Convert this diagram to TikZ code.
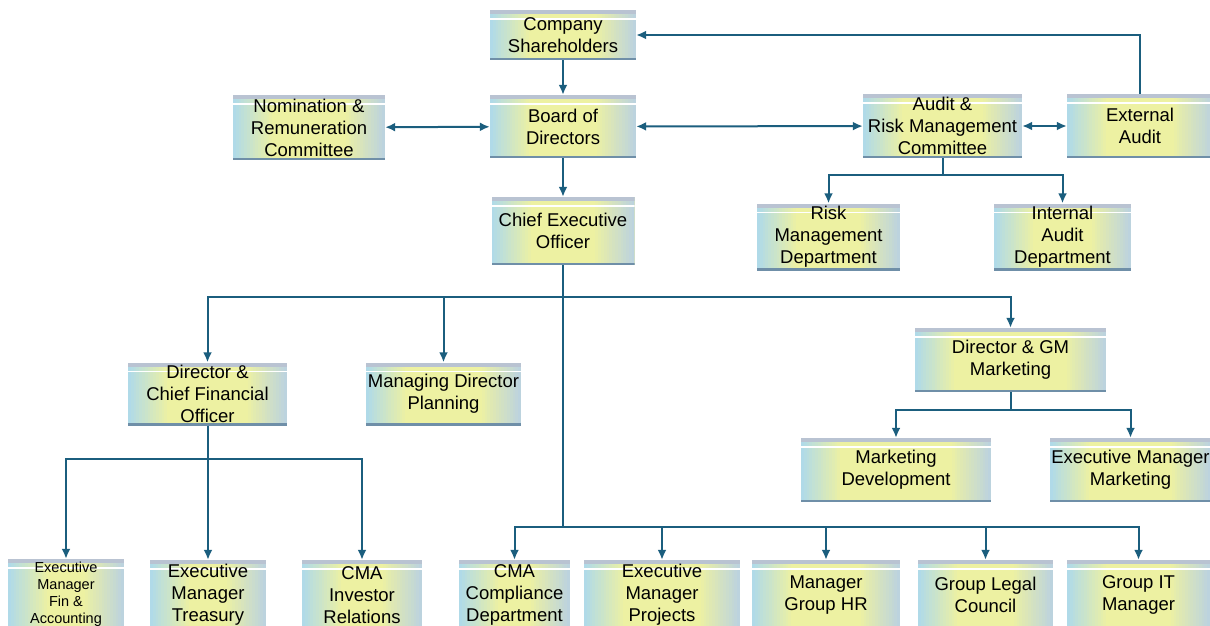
\documentclass[tikz,border=0pt]{standalone}
\usepackage{fontspec}
\setmainfont{Liberation Sans}
\usetikzlibrary{arrows.meta}
\definecolor{ln}{HTML}{1B5E7E}
\definecolor{boxin}{HTML}{EDF1A2}
\definecolor{boxout}{HTML}{B0DAE8}
\definecolor{boxright}{HTML}{BCD3DE}
\definecolor{band}{HTML}{B9C3D2}
\definecolor{bline}{HTML}{6F8FA8}
\tikzset{
  box/.style={fill=boxin, align=center, inner sep=0pt,
    font=\fontsize{18.5}{22}\selectfont,
    path picture={
      \foreach \i [evaluate=\i as \p using {\i*100/14}] in {0,...,13} {
        \fill[boxin!\p!boxout] ([xshift=\i*2.8pt]path picture bounding box.south west) rectangle ([xshift=\i*2.8pt+2.9pt]path picture bounding box.north west);
        \fill[boxin!\p!boxright] ([xshift=-\i*2.8pt]path picture bounding box.south east) rectangle ([xshift=-\i*2.8pt-2.9pt]path picture bounding box.north east);
      }
      \fill[band] (path picture bounding box.north west) rectangle ([yshift=-4pt]path picture bounding box.north east);
      \draw[white, line width=1.2pt] ([yshift=-9pt]path picture bounding box.north west) -- ([yshift=-9pt]path picture bounding box.north east);
      \fill[bline] (path picture bounding box.south west) rectangle ([yshift=2.5pt]path picture bounding box.south east);
    }},
  conn/.style={draw=ln, line width=2pt},
  arr/.style={conn, -{Latex[length=10pt,width=9pt]}},
  darr/.style={conn, {Latex[length=10pt,width=9pt]}-{Latex[length=10pt,width=9pt]}},
}
\begin{document}
\begin{tikzpicture}[x=1pt,y=-1pt]
\useasboundingbox (0,0) rectangle (1210,625);
\clip (0,0) rectangle (1210,625);
% top level
\node[box, minimum width=146, minimum height=50] (sh) at (563,35) {Company\\Shareholders};
\node[box, minimum width=146, minimum height=63] (bod) at (563,126.5) {Board of\\Directors};
\node[box, minimum width=152, minimum height=65] (nom) at (309,127.5) {Nomination \&\\Remuneration\\Committee};
\node[box, minimum width=159, minimum height=64] (aud) at (942.5,126) {Audit \&\\Risk Management\\Committee};
\node[box, minimum width=146, minimum height=64] (ext) at (1140,126) {External\\Audit};
\node[box, minimum width=143, minimum height=68] (ceo) at (563,231) {Chief Executive\\Officer};
\node[box, minimum width=143, minimum height=67] (risk) at (828.5,237) {Risk\\Management\\Department};
\node[box, minimum width=137, minimum height=67] (ia) at (1062.5,237) {Internal\\Audit\\Department};
% second level
\node[box, minimum width=159, minimum height=63] (cfo) at (207.5,394) {Director \&\\Chief Financial\\Officer};
\node[box, minimum width=155, minimum height=63] (mdp) at (443.5,394) {Managing Director\\Planning};
\node[box, minimum width=191, minimum height=64] (dgm) at (1010.5,360) {Director \& GM\\Marketing};
\node[box, minimum width=190, minimum height=64] (mdev) at (896,470) {Marketing\\Development};
\node[box, minimum width=161, minimum height=64] (emm) at (1130.5,470) {Executive Manager\\Marketing};
% bottom row
\node[box, minimum width=116, minimum height=70, font=\fontsize{14.5}{17}\selectfont] (efa) at (66,594) {Executive\\Manager\\Fin \&\\Accounting};
\node[box, minimum width=116, minimum height=70] (etr) at (208,595) {Executive\\Manager\\Treasury};
\node[box, minimum width=120, minimum height=70] (cir) at (362,595) {CMA\\Investor\\Relations};
\node[box, minimum width=111, minimum height=70] (ccd) at (514.5,595) {CMA\\Compliance\\Department};
\node[box, minimum width=156, minimum height=70] (emp) at (662,595) {Executive\\Manager\\Projects};
\node[box, minimum width=148, minimum height=70] (mhr) at (826,595) {Manager\\Group HR};
\node[box, minimum width=135, minimum height=70] (glc) at (985.5,595) {Group Legal\\Council};
\node[box, minimum width=143, minimum height=70] (git) at (1138.5,595) {Group IT\\Manager};
% connectors
\draw[arr] (sh) -- (bod);
\draw[arr] (ext.north) |- (sh.east);
\draw[darr] (nom) -- (bod);
\draw[darr] (bod) -- (aud);
\draw[darr] (aud) -- (ext);
\draw[arr] (bod) -- (ceo);
\coordinate (aj) at (942.5,175);
\draw[conn] (aud.south) -- (aj);
\draw[arr] (aj) -| (risk.north);
\draw[arr] (aj) -| (ia.north);
\coordinate (cj) at (563,297);
\draw[conn] (ceo.south) -- (cj);
\draw[arr] (cj) -| (cfo.north);
\draw[arr] (cj) -| (mdp.north);
\draw[arr] (cj) -| (dgm.north);
\coordinate (tj) at (563,527);
\draw[conn] (cj) -- (tj);
\draw[arr] (tj) -| (ccd.north);
\draw[arr] (tj) -| (emp.north);
\draw[arr] (tj) -| (mhr.north);
\draw[arr] (tj) -| (glc.north);
\draw[arr] (tj) -| (git.north);
\coordinate (fj) at (207.5,459);
\draw[conn] (cfo.south) -- (fj);
\draw[arr] (fj) -| (efa.north);
\draw[arr] (fj) -| (etr.north);
\draw[arr] (fj) -| (cir.north);
\coordinate (mj) at (1010.5,410);
\draw[conn] (dgm.south) -- (mj);
\draw[arr] (mj) -| (mdev.north);
\draw[arr] (mj) -| (emm.north);
\end{tikzpicture}
\end{document}
